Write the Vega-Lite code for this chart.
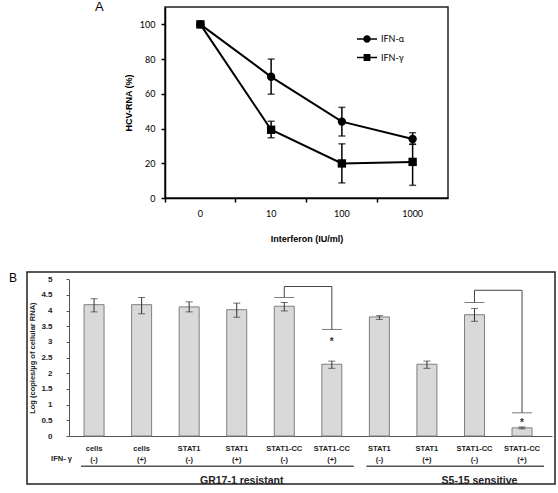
{
  "$schema": "https://vega.github.io/schema/vega-lite/v6.json",
  "padding": {"left": 8, "top": 0, "right": 0, "bottom": 0},
  "spacing": 27,
  "background": "white",
  "config": {
    "view": {"stroke": "#222", "strokeWidth": 1.5},
    "font": "Liberation Sans",
    "axis": {"grid": false, "labelOverlap": false, "labelSeparation": 0},
    "title": {"color": "black"}
  },
  "datasets": {
    "ifn": [
      {"dose": "0", "series": "IFN-α", "value": 100, "lo": null, "hi": null},
      {"dose": "10", "series": "IFN-α", "value": 69.8, "lo": 59.8, "hi": 80},
      {"dose": "100", "series": "IFN-α", "value": 44, "lo": 35.7, "hi": 52.2},
      {"dose": "1000", "series": "IFN-α", "value": 34, "lo": 30.9, "hi": 37.6},
      {"dose": "0", "series": "IFN-γ", "value": 100, "lo": null, "hi": null},
      {"dose": "10", "series": "IFN-γ", "value": 39.3, "lo": 34.7, "hi": 44.2},
      {"dose": "100", "series": "IFN-γ", "value": 19.9, "lo": 8.7, "hi": 31.2},
      {"dose": "1000", "series": "IFN-γ", "value": 20.8, "lo": 7.3, "hi": 31}
    ],
    "bars": [
      {"key": "GR17-1 resistant: cells (-)", "value": 4.19, "lo": 3.96, "hi": 4.38},
      {"key": "GR17-1 resistant: cells (+)", "value": 4.19, "lo": 3.9, "hi": 4.42},
      {"key": "GR17-1 resistant: STAT1 (-)", "value": 4.12, "lo": 3.96, "hi": 4.28},
      {"key": "GR17-1 resistant: STAT1 (+)", "value": 4.03, "lo": 3.79, "hi": 4.24},
      {"key": "GR17-1 resistant: STAT1-CC (-)", "value": 4.14, "lo": 3.99, "hi": 4.26},
      {"key": "GR17-1 resistant: STAT1-CC (+)", "value": 2.29, "lo": 2.16, "hi": 2.39},
      {"key": "S5-15 sensitive: STAT1 (-)", "value": 3.8, "lo": 3.72, "hi": 3.84},
      {"key": "S5-15 sensitive: STAT1 (+)", "value": 2.29, "lo": 2.16, "hi": 2.39},
      {"key": "S5-15 sensitive: STAT1-CC (-)", "value": 3.87, "lo": 3.66, "hi": 4.07},
      {"key": "S5-15 sensitive: STAT1-CC (+)", "value": 0.26, "lo": 0.23, "hi": 0.29}
    ],
    "brackets": [
      {"left": "GR17-1 resistant: STAT1-CC (-)", "right": "GR17-1 resistant: STAT1-CC (+)", "leftCap": 4.42, "rightCap": 3.4, "top": 4.77, "star": 3.1},
      {"left": "S5-15 sensitive: STAT1-CC (-)", "right": "S5-15 sensitive: STAT1-CC (+)", "leftCap": 4.26, "rightCap": 0.74, "top": 4.65, "star": 0.52}
    ],
    "groups": [
      {"group": "GR17-1 resistant", "first": "GR17-1 resistant: cells (-)", "last": "GR17-1 resistant: STAT1-CC (+)", "labelAt": "GR17-1 resistant: STAT1 (+)"},
      {"group": "S5-15 sensitive", "first": "S5-15 sensitive: STAT1 (-)", "last": "S5-15 sensitive: STAT1-CC (+)", "labelAt": "S5-15 sensitive: STAT1-CC (-)"}
    ]
  },
  "vconcat": [
    {
      "spacing": 10,
      "hconcat": [
        {
          "width": 57,
          "height": 191,
          "view": {"stroke": null},
          "data": {"values": []},
          "mark": "point"
        },
        {
          "width": 283,
          "height": 191,
          "title": {"text": "A", "anchor": "start", "frame": "group", "dx": -70, "dy": 7, "baseline": "top", "offset": 0, "fontSize": 13, "fontWeight": "normal", "font": "Liberation Sans"},
          "data": {"name": "ifn"},
          "resolve": {"scale": {"shape": "independent"}},
          "encoding": {
            "x": {"field": "dose", "type": "nominal", "sort": null,
              "scale": {"domain": ["0", "10", "100", "1000"], "paddingInner": 0, "paddingOuter": 0},
              "axis": {"orient": "bottom", "bandPosition": 0, "labelAngle": 0, "domainColor": "black", "domainWidth": 1.5, "tickColor": "black", "tickWidth": 1.5, "tickSize": 4, "labelFont": "Lato", "labelFontSize": 9, "labelColor": "black", "labelPadding": 7, "title": "Interferon (IU/ml)", "titleFont": "Liberation Sans", "titleFontSize": 9, "titleFontWeight": "bold", "titleColor": "black", "titlePadding": 16}},
            "y": {"field": "value", "type": "quantitative",
              "scale": {"domain": [0, 110], "nice": false},
              "axis": {"orient": "left", "tickCount": 6, "labelOverlap": false, "domainColor": "black", "domainWidth": 1.5, "tickColor": "black", "tickWidth": 1.5, "tickSize": 4, "labelFont": "Lato", "labelFontSize": 9, "labelColor": "black", "labelPadding": 6, "title": "HCV-RNA (%)", "titleFont": "Liberation Sans", "titleFontSize": 9, "titleFontWeight": "bold", "titleColor": "black", "titlePadding": 6}}
          },
          "layer": [
            {
              "mark": {"type": "rule", "color": "black", "strokeWidth": 1.5},
              "encoding": {
                "y": {"field": "lo", "type": "quantitative"},
                "y2": {"field": "hi"}
              }
            },
            {
              "mark": {"type": "tick", "color": "black", "thickness": 1.5, "size": 7, "orient": "horizontal"},
              "encoding": {"y": {"field": "lo", "type": "quantitative"}}
            },
            {
              "mark": {"type": "tick", "color": "black", "thickness": 1.5, "size": 7, "orient": "horizontal"},
              "encoding": {"y": {"field": "hi", "type": "quantitative"}}
            },
            {
              "mark": {"type": "line", "color": "black", "strokeWidth": 2},
              "encoding": {
                "detail": {"field": "series", "type": "nominal"}
              }
            },
            {
              "mark": {"type": "point", "filled": true, "color": "black", "opacity": 1, "size": 70},
              "encoding": {
                "shape": {"field": "series", "type": "nominal",
                  "scale": {"domain": ["IFN-α", "IFN-γ"], "range": ["circle", "square"]},
                  "legend": null}
              }
            },
            {
              "mark": {"type": "point", "filled": true, "color": "black", "size": 0},
              "encoding": {
                "shape": {"field": "series", "type": "nominal",
                  "scale": {"domain": ["IFN-α", "IFN-γ"], "range": ["M-2,-0.15H2V0.15H-2Z M0.74,0A0.74,0.74 0 1,1 -0.74,0A0.74,0.74 0 1,1 0.74,0Z", "M-2,-0.15H2V0.15H-2Z M-0.68,-0.68H0.68V0.68H-0.68Z"]},
                  "legend": {"orient": "none", "legendX": 197, "legendY": 27, "title": null, "labelFont": "Lato", "labelFontSize": 9, "labelColor": "black", "symbolSize": 100, "symbolFillColor": "black", "symbolStrokeColor": "black", "symbolStrokeWidth": 0, "symbolOpacity": 1, "rowPadding": 8.5, "labelOffset": 9}}
              }
            }
          ]
        }
      ]
    },
    {
      "width": 528,
      "height": 212,
      "title": {"text": "B", "anchor": "start", "frame": "group", "dx": -18, "dy": 13, "baseline": "top", "offset": 0, "fontSize": 12, "fontWeight": "normal", "font": "Liberation Sans"},
      "layer": [
        {
          "data": {"name": "bars"},
          "mark": {"type": "bar", "fill": "#d9d9d9", "stroke": "#7f7f7f", "strokeWidth": 1, "width": 20},
          "encoding": {
            "x": {"field": "key", "type": "nominal", "sort": null,
              "scale": {"domain": ["GR17-1 resistant: cells (-)", "GR17-1 resistant: cells (+)", "GR17-1 resistant: STAT1 (-)", "GR17-1 resistant: STAT1 (+)", "GR17-1 resistant: STAT1-CC (-)", "GR17-1 resistant: STAT1-CC (+)", "S5-15 sensitive: STAT1 (-)", "S5-15 sensitive: STAT1 (+)", "S5-15 sensitive: STAT1-CC (-)", "S5-15 sensitive: STAT1-CC (+)"], "range": [42, 525], "paddingInner": 0.579, "paddingOuter": 0.368, "align": 0.43},
              "axis": {"orient": "bottom", "offset": -48, "labelAngle": 0, "ticks": false, "domainColor": "#555", "domainWidth": 1,
                "labelExpr": "split(split(datum.value, ': ')[1], ' ')", "labelFont": "Liberation Sans", "labelFontSize": 7.5, "labelFontWeight": "bold", "labelColor": "#222", "labelLineHeight": 11.7, "labelPadding": 8, "labelBaseline": "top",
                "title": "IFN- γ", "titleX": 34, "titleY": 22.7, "titleAlign": "center", "titleBaseline": "middle", "titleFont": "Liberation Sans", "titleFontSize": 7.5, "titleFontWeight": "bold", "titleColor": "#222"}},
            "y": {"field": "value", "type": "quantitative",
              "scale": {"domain": [0, 5], "range": [164, 7.3], "nice": false},
              "axis": {"orient": "left", "offset": -42, "tickCount": 10, "format": "~g", "labelOverlap": false, "domainColor": "#555", "tickColor": "#555", "tickSize": 3, "labelFont": "Liberation Sans", "labelFontSize": 8, "labelFontWeight": "bold", "labelColor": "#222", "labelPadding": 14,
                "title": "Log (copies/µg of cellular RNA)", "titleFont": "Liberation Sans", "titleFontSize": 7.5, "titleFontWeight": "bold", "titleColor": "#222", "titlePadding": 4}}
          }
        },
        {
          "data": {"name": "bars"},
          "mark": {"type": "rule", "color": "#333", "strokeWidth": 1},
          "encoding": {
            "x": {"field": "key", "type": "nominal", "sort": null},
            "y": {"field": "lo", "type": "quantitative"},
            "y2": {"field": "hi"}
          }
        },
        {
          "data": {"name": "bars"},
          "mark": {"type": "tick", "color": "#333", "thickness": 1, "size": 7, "orient": "horizontal"},
          "encoding": {
            "x": {"field": "key", "type": "nominal", "sort": null},
            "y": {"field": "lo", "type": "quantitative"}
          }
        },
        {
          "data": {"name": "bars"},
          "mark": {"type": "tick", "color": "#333", "thickness": 1, "size": 7, "orient": "horizontal"},
          "encoding": {
            "x": {"field": "key", "type": "nominal", "sort": null},
            "y": {"field": "hi", "type": "quantitative"}
          }
        },
        {
          "data": {"name": "brackets"},
          "mark": {"type": "rule", "color": "#444", "strokeWidth": 1},
          "encoding": {
            "x": {"field": "left", "type": "nominal"},
            "x2": {"field": "right"},
            "y": {"field": "top", "type": "quantitative"}
          }
        },
        {
          "data": {"name": "brackets"},
          "mark": {"type": "rule", "color": "#444", "strokeWidth": 1},
          "encoding": {
            "x": {"field": "left", "type": "nominal"},
            "y": {"field": "leftCap", "type": "quantitative"},
            "y2": {"field": "top"}
          }
        },
        {
          "data": {"name": "brackets"},
          "mark": {"type": "rule", "color": "#444", "strokeWidth": 1},
          "encoding": {
            "x": {"field": "right", "type": "nominal"},
            "y": {"field": "rightCap", "type": "quantitative"},
            "y2": {"field": "top"}
          }
        },
        {
          "data": {"name": "brackets"},
          "mark": {"type": "tick", "color": "#444", "thickness": 1, "size": 20, "orient": "horizontal"},
          "encoding": {
            "x": {"field": "left", "type": "nominal"},
            "y": {"field": "leftCap", "type": "quantitative"}
          }
        },
        {
          "data": {"name": "brackets"},
          "mark": {"type": "tick", "color": "#444", "thickness": 1, "size": 20, "orient": "horizontal"},
          "encoding": {
            "x": {"field": "right", "type": "nominal"},
            "y": {"field": "rightCap", "type": "quantitative"}
          }
        },
        {
          "data": {"name": "brackets"},
          "mark": {"type": "text", "text": "*", "font": "Liberation Sans", "fontSize": 10, "fontWeight": "bold", "color": "#333", "baseline": "middle", "dy": 3},
          "encoding": {
            "x": {"field": "right", "type": "nominal"},
            "y": {"field": "star", "type": "quantitative"}
          }
        },
        {
          "data": {"name": "groups"},
          "mark": {"type": "rule", "color": "#555", "strokeWidth": 1.5, "xOffset": -13, "x2Offset": 22},
          "encoding": {
            "x": {"field": "first", "type": "nominal"},
            "x2": {"field": "last"},
            "y": {"datum": -0.967, "type": "quantitative"}
          }
        },
        {
          "data": {"name": "groups"},
          "mark": {"type": "text", "font": "Liberation Sans", "fontSize": 10.5, "fontWeight": "bold", "color": "#222", "baseline": "middle", "align": "center", "dx": 5},
          "encoding": {
            "x": {"field": "labelAt", "type": "nominal"},
            "y": {"datum": -1.435, "type": "quantitative"},
            "text": {"field": "group"}
          }
        }
      ]
    }
  ]
}
